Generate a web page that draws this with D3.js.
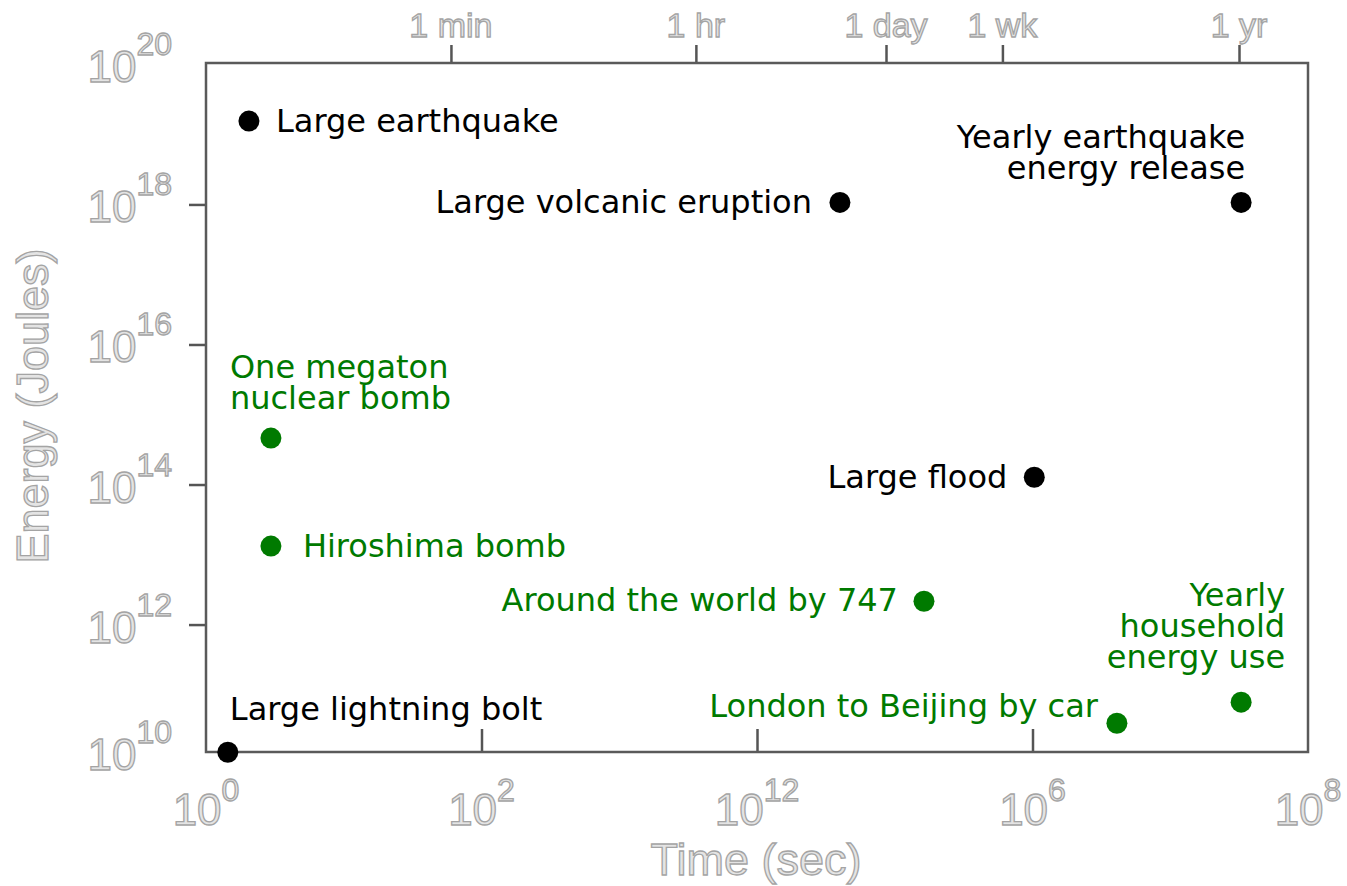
<!DOCTYPE html>
<html>
<head>
<meta charset="utf-8">
<script src="https://cdn.jsdelivr.net/npm/d3@7"></script>
<style>
  html, body { margin: 0; padding: 0; background: #fff; }
  svg { display: block; }
  .ghost { font-family: "Liberation Sans", Arial, sans-serif; fill: #e4e4e4; stroke: #a4a4a4; stroke-width: 1.3px; }
  .lbl { font-family: "DejaVu Sans", Verdana, sans-serif; font-size: 32px; }
</style>
</head>
<body>
<svg id="chart" width="1347" height="886"></svg>
<script>
// Energy released by events versus the time over which they happen
const eventNames = [
  ["Large earthquake"],
  ["Large volcanic eruption"],
  ["Yearly earthquake", "energy release"],
  ["Large flood"],
  ["Around the world by 747"],
  ["One megaton", "nuclear bomb"],
  ["Hiroshima bomb"],
  ["Large lightning bolt"],
  ["London to Beijing by car"],
  ["Yearly", "household", "energy use"]
];
const durationsSec = [2.05, 4.0e4, 3.27e7, 1.03e6, 1.63e5, 2.96, 2.96, 1.44, 4.1e6, 3.27e7];
const energiesJ   = [1.55e19, 1.07e18, 1.07e18, 1.27e14, 2.15e12, 4.6e14, 1.32e13, 1.5e10, 3.9e10, 7.8e10];
const eventKind   = ["natural", "natural", "natural", "natural", "human", "human", "human", "natural", "human", "human"];

// Axis ticks
const xTickValues = [1, 1e2, 1e4, 1e6, 1e8];
const xTickExponents = ["0", "2", "12", "6", "8"];
const yTickValues = [1e10, 1e12, 1e14, 1e16, 1e18, 1e20];
const yTickExponents = ["10", "12", "14", "16", "18", "20"];
const timeMarkSec = [60, 3600, 86400, 604800, 31557600];
const timeMarkLabels = ["1 min", "1 hr", "1 day", "1 wk", "1 yr"];

// Label placement around each point: anchor, horizontal offset, first baseline offset
const labelPlacement = [
  { anchor: "start", dx: 27, dy: 11 },
  { anchor: "end", dx: -28, dy: 11 },
  { anchor: "end", dx: 4, dy: -54 },
  { anchor: "end", dx: -27, dy: 11 },
  { anchor: "end", dx: -26, dy: 10 },
  { anchor: "start", dx: -41, dy: -60 },
  { anchor: "start", dx: 32, dy: 11 },
  { anchor: "start", dx: 2, dy: -32 },
  { anchor: "end", dx: -19, dy: -6 },
  { anchor: "end", dx: 44, dy: -96 }
];
const lineStep = 31;

const kindColor = { natural: "#000000", human: "#007a00" };

const svg = d3.select("#chart");
const frame = { left: 206, right: 1308, top: 63, bottom: 752 };

const x = d3.scaleLog().domain([1, 1e8]).range([frame.left, frame.right]);
const y = d3.scaleLog().domain([Math.pow(10, 10.18), Math.pow(10, 20.02)]).range([frame.bottom, frame.top]);

const tickStyle = g => {
  g.select(".domain").remove();
  g.selectAll(".tick line").attr("stroke", "#555").attr("stroke-width", 2.5);
  g.selectAll(".tick text").remove();
};

// Left ticks (outward)
svg.append("g")
  .attr("transform", `translate(${frame.left},0)`)
  .call(d3.axisLeft(y).tickValues([1e12, 1e14, 1e16, 1e18]).tickSize(17).tickFormat(""))
  .call(tickStyle);

// Bottom ticks (inward)
svg.append("g")
  .attr("transform", `translate(0,${frame.bottom})`)
  .call(d3.axisTop(x).tickValues([1e2, 1e4, 1e6]).tickSize(23).tickFormat(""))
  .call(tickStyle);

// Top ticks for human time units (outward)
svg.append("g")
  .attr("transform", `translate(0,${frame.top})`)
  .call(d3.axisTop(x).tickValues(timeMarkSec).tickSize(18).tickFormat(""))
  .call(tickStyle);

// Plot frame
svg.append("rect")
  .attr("x", frame.left).attr("y", frame.top)
  .attr("width", frame.right - frame.left).attr("height", frame.bottom - frame.top)
  .attr("fill", "none").attr("stroke", "#5a5a5a").attr("stroke-width", 2.5);

// Tick labels: 10 with superscript exponent, end labels kept at the frame edge
const clampX = v => Math.max(frame.left, Math.min(frame.right, x(v)));
const clampY = v => Math.max(frame.top, Math.min(frame.bottom, y(v)));

xTickValues.forEach((v, i) => {
  const t = svg.append("text").attr("class", "ghost")
    .attr("x", clampX(v)).attr("y", 825).attr("text-anchor", "middle");
  t.append("tspan").attr("font-size", 44).text("10");
  t.append("tspan").attr("font-size", 32).attr("dy", -24).text(xTickExponents[i]);
});

yTickValues.forEach((v, i) => {
  const yy = clampY(v);
  const t = svg.append("text").attr("class", "ghost")
    .attr("x", 172).attr("y", yy + 18).attr("text-anchor", "end");
  t.append("tspan").attr("font-size", 44).text("10");
  t.append("tspan").attr("font-size", 32).attr("dy", -27).text(yTickExponents[i]);
});

// Top time-unit labels
timeMarkSec.forEach((v, i) => {
  svg.append("text").attr("class", "ghost")
    .attr("x", x(v)).attr("y", 37).attr("text-anchor", "middle")
    .attr("font-size", 34).text(timeMarkLabels[i]);
});

// Axis titles
svg.append("text").attr("class", "ghost")
  .attr("x", 756).attr("y", 875).attr("text-anchor", "middle")
  .attr("font-size", 45).text("Time (sec)");

svg.append("text").attr("class", "ghost")
  .attr("transform", "translate(48,406) rotate(-90)")
  .attr("text-anchor", "middle")
  .attr("font-size", 45).text("Energy (Joules)");

// Points and their labels
const events = durationsSec.map((t, i) => ({
  t, e: energiesJ[i], kind: eventKind[i], lines: eventNames[i], place: labelPlacement[i]
}));

svg.append("g").selectAll("circle")
  .data(events).join("circle")
  .attr("cx", d => x(d.t))
  .attr("cy", d => y(d.e))
  .attr("r", 10.5)
  .attr("fill", d => kindColor[d.kind]);

svg.append("g").selectAll("text")
  .data(events).join("text")
  .attr("class", "lbl")
  .attr("text-anchor", d => d.place.anchor)
  .attr("fill", d => kindColor[d.kind])
  .each(function (d) {
    const px = x(d.t) + d.place.dx;
    const py = y(d.e) + d.place.dy;
    d3.select(this).selectAll("tspan")
      .data(d.lines).join("tspan")
      .attr("x", px)
      .attr("y", (line, j) => py + j * lineStep)
      .text(line => line);
  });
</script>
</body>
</html>
